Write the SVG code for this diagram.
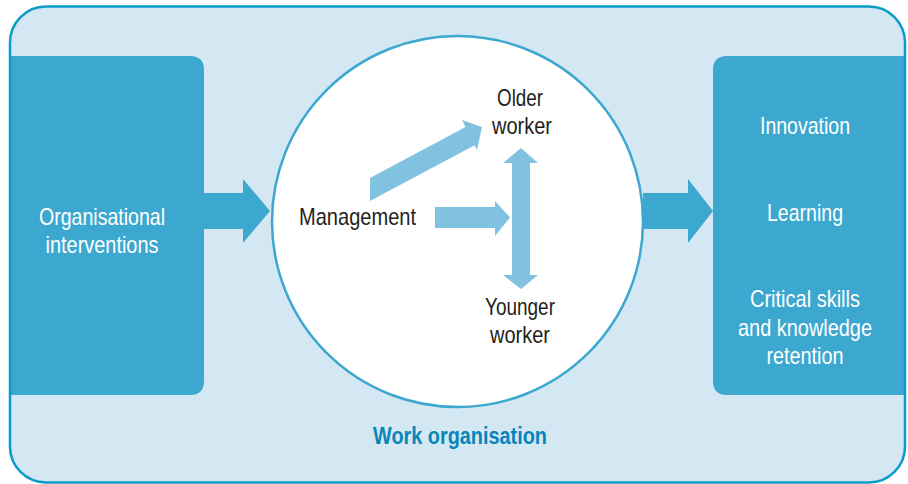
<svg xmlns="http://www.w3.org/2000/svg" width="908" height="484" viewBox="0 0 908 484">
<style>
.box{fill:#3ca8d0}
.big{fill:#3ca8d0}
.small{fill:#80c2e0}
.wt{font-family:"Liberation Sans",Arial,sans-serif;font-size:24px;fill:#ffffff;text-anchor:middle}
.dt{font-family:"Liberation Sans",Arial,sans-serif;font-size:24px;fill:#231f20;text-anchor:middle}
.tt{font-family:"Liberation Sans",Arial,sans-serif;font-size:23px;font-weight:bold;fill:#0a85b8;text-anchor:middle}
</style>
<g id="frame">
<rect x="10" y="6.5" width="895" height="476" rx="36" fill="#d4e8f3"/>
</g>
<g id="left-box">
<path class="box" d="M10,56 H190 Q204,56 204,70 V381 Q204,395 190,395 H10 Z"/>
<text class="wt" x="102" y="225" textLength="126" lengthAdjust="spacingAndGlyphs">Organisational</text>
<text class="wt" x="102" y="253" textLength="113" lengthAdjust="spacingAndGlyphs">interventions</text>
</g>
<g id="right-box">
<path class="box" d="M905,56 H727 Q713,56 713,70 V381 Q713,395 727,395 H905 Z"/>
<text class="wt" x="805" y="134" textLength="90" lengthAdjust="spacingAndGlyphs">Innovation</text>
<text class="wt" x="805" y="221" textLength="76" lengthAdjust="spacingAndGlyphs">Learning</text>
<text class="wt" x="805" y="307" textLength="110" lengthAdjust="spacingAndGlyphs">Critical skills</text>
<text class="wt" x="805" y="336" textLength="134" lengthAdjust="spacingAndGlyphs">and knowledge</text>
<text class="wt" x="805" y="364" textLength="77" lengthAdjust="spacingAndGlyphs">retention</text>
</g>
<g id="work-organisation">
<circle cx="457.5" cy="221.5" r="185.5" fill="#ffffff" stroke="#3ca8d0" stroke-width="2.5"/>
<text class="dt" x="357.5" y="225" textLength="117" lengthAdjust="spacingAndGlyphs">Management</text>
<text class="dt" x="520" y="106" textLength="46" lengthAdjust="spacingAndGlyphs">Older</text>
<text class="dt" x="522" y="134" textLength="60" lengthAdjust="spacingAndGlyphs">worker</text>
<text class="dt" x="520" y="315" textLength="70" lengthAdjust="spacingAndGlyphs">Younger</text>
<text class="dt" x="520" y="343" textLength="60" lengthAdjust="spacingAndGlyphs">worker</text>
<text class="tt" x="460" y="444" textLength="174" lengthAdjust="spacingAndGlyphs">Work organisation</text>
</g>
<g id="connectors">
<polygon class="big" points="204,193 243,193 243,179 270,211 243,243 243,229 204,229"/>
<polygon class="big" points="643,193 688,193 688,179 713,211 688,243 688,229 643,229"/>
<polygon class="small" points="370,178 465.5,127 462,120 482,127 477,150 474.6,145.2 370,201"/>
<polygon class="small" points="435,207 495,207 495,201 510,217.5 495,236 495,228 435,228"/>
<polygon class="small" points="521,148 538,163 530,163 530,275 538,275 521,289 503,275 512,275 512,163 503,163"/>
</g>
<rect x="10" y="6.5" width="895" height="476" rx="36" fill="none" stroke="#0a9cc8" stroke-width="2.5"/>
</svg>
